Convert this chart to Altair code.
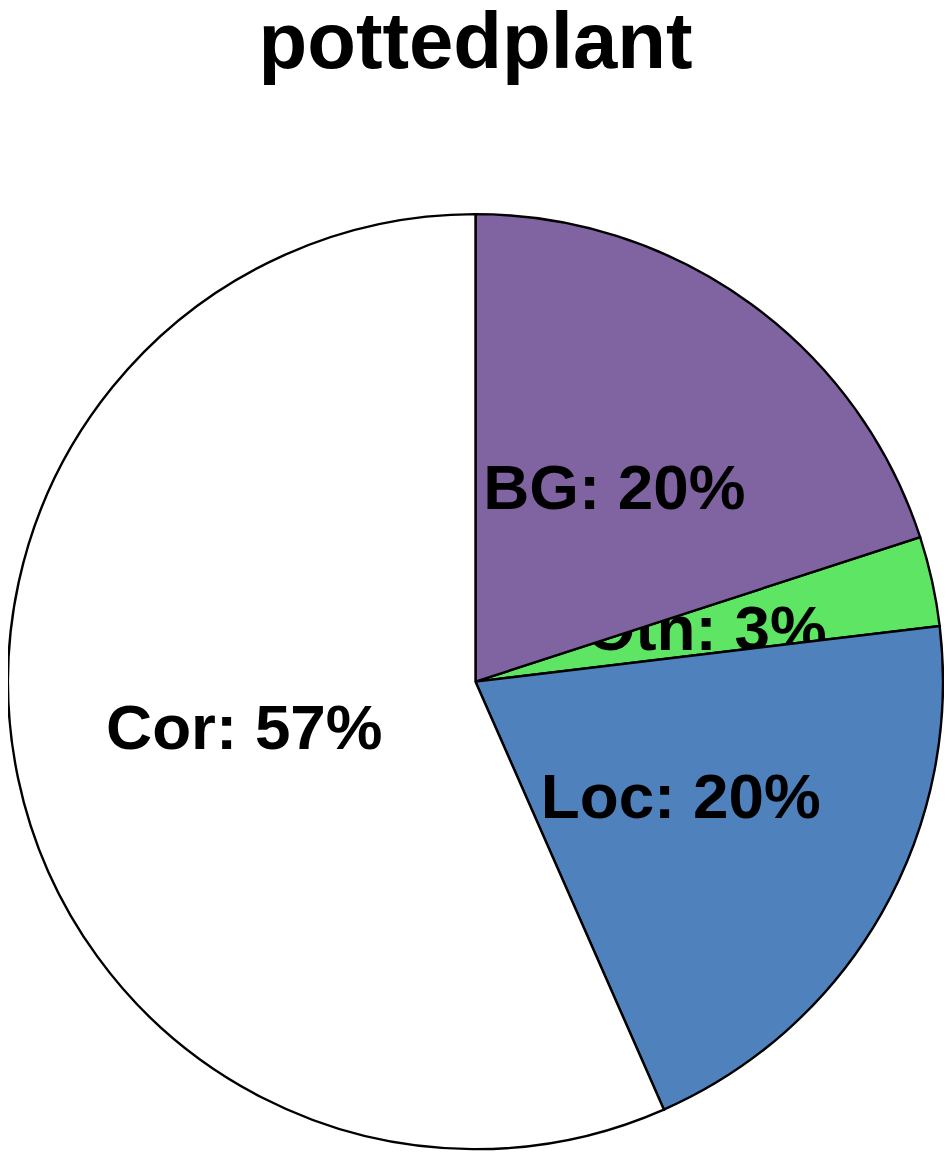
import altair as alt
import pandas as pd
import math

title_text = ["pottedplant"]
categories = ["BG", "Oth", "Loc", "Cor"]
values = [20.0, 3.1, 20.3, 56.6]
labels = ["BG: 20%", "Oth: 3%", "Loc: 20%", "Cor: 57%"]
colors = ["#8064A2", "#5DE563", "#4F81BD", "#FFFFFF"]
draw_order = ["Oth", "BG", "Loc", "Cor"]

df = pd.DataFrame({"cat": categories, "value": values, "label": labels,
                   "idx": list(range(len(categories)))})

CX = 469
CY = 674
R = 469

base = alt.Chart(df).transform_window(
    cum="sum(value)", sort=[alt.SortField("idx")], frame=[None, 0]
).transform_calculate(
    start="datum.cum - datum.value",
    mid="datum.cum - datum.value / 2",
)

theta_scale = alt.Scale(domain=[0, 100], range=[0, 2 * math.pi])
color_scale = alt.Scale(domain=categories, range=colors)

layers = []
for c in draw_order:
    sub = base.transform_filter(alt.datum.cat == c)
    arc = sub.mark_arc(stroke="black", strokeWidth=2.4, radius=R).encode(
        theta=alt.Theta("start:Q", scale=theta_scale),
        theta2="cum:Q",
        color=alt.Color("cat:N", scale=color_scale, legend=None),
        x=alt.value(CX),
        y=alt.value(CY),
    )
    txt = sub.mark_text(
        radius=237, font="Liberation Sans", fontWeight="bold", fontSize=64,
        color="black", align="center", baseline="middle",
    ).encode(
        theta=alt.Theta("mid:Q", scale=theta_scale),
        text="label:N",
        x=alt.value(CX),
        y=alt.value(CY),
    )
    layers += [arc, txt]

title = alt.Chart(pd.DataFrame({"t": title_text})).mark_text(
    font="Liberation Sans", fontWeight="bold", fontSize=80, color="black",
    align="center", baseline="alphabetic",
).encode(text="t:N", x=alt.value(CX), y=alt.value(58))

chart = alt.layer(title, *layers).properties(
    width=939,
    height=1145,
    padding=0,
    autosize=alt.AutoSizeParams(type="none"),
).configure_view(stroke=None)

chart.save("out.html", embed_options={"renderer": "svg", "actions": False})
